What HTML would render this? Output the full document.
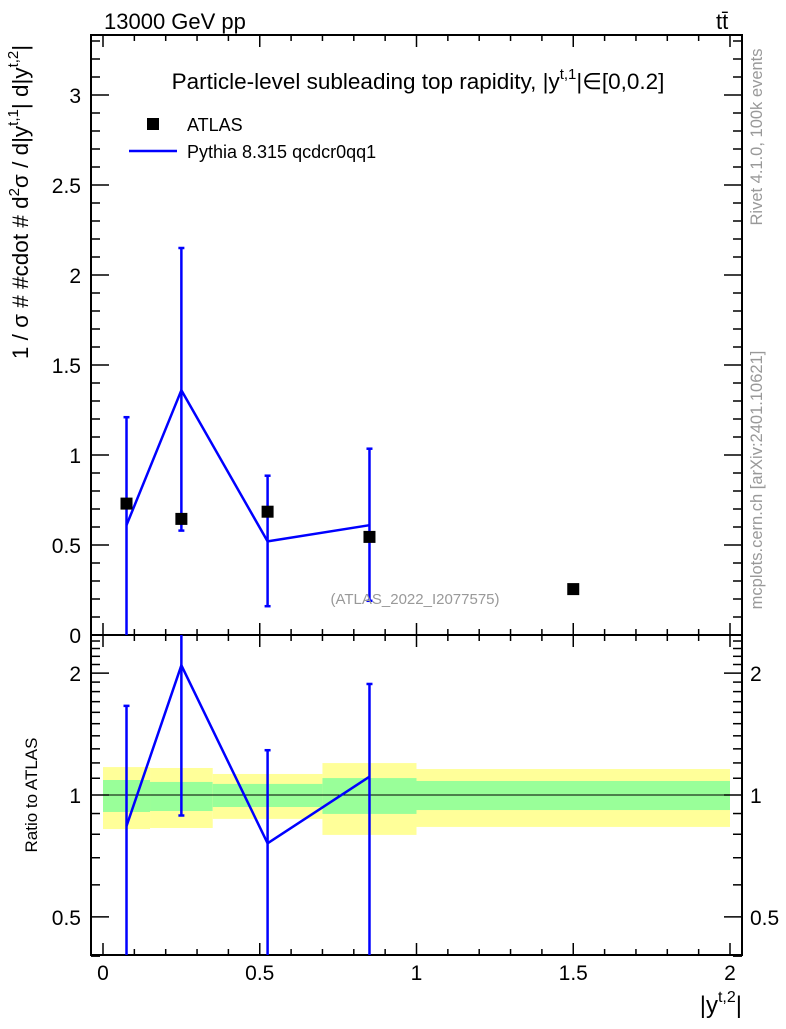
<!DOCTYPE html>
<html><head><meta charset="utf-8"><style>
body{margin:0;background:#fff}
svg text{font-family:"Liberation Sans",sans-serif}
</style></head><body>
<svg id="c" width="786" height="1024" xmlns="http://www.w3.org/2000/svg"></svg>
<script>
const binEdges=[0,0.15,0.35,0.7,1.0,2.0];
const dataX=[0.075,0.25,0.525,0.85,1.5];
const dataY=[0.73,0.645,0.685,0.545,0.255];
const mcX=[0.075,0.25,0.525,0.85];
const mcY=[0.61,1.36,0.52,0.61];
const mcUp=[1.21,2.15,0.885,1.035];
const mcDn=[-0.1,0.58,0.16,0.19];
const ratioY=[0.838,2.09,0.76,1.11];
const ratioUp=[1.66,3,1.29,1.88];
const ratioDn=[0.3,0.89,0.3,0.3];
const yelHi=[1.172,1.166,1.127,1.199,1.159];
const yelLo=[0.824,0.829,0.873,0.797,0.834];
const grnHi=[1.089,1.077,1.065,1.101,1.083];
const grnLo=[0.908,0.913,0.934,0.898,0.918];
const mainTicks=["0","0.5","1","1.5","2","2.5","3"];
const xTicks=["0","0.5","1","1.5","2"];

const L=91,R=742,T=35,MB=635,RB=955;
const X=v=>103+v*313.5;
const Y=v=>635-v*180;
const RY=v=>795-Math.log10(v)*405;
const svg=document.getElementById('c');
const NS="http://www.w3.org/2000/svg";
function el(t,a,p){const e=document.createElementNS(NS,t);for(const k in a)e.setAttribute(k,a[k]);(p||svg).appendChild(e);return e;}
function txt(s,a){const e=el('text',a);e.textContent=s;return e;}
const clamp=(v,a,b)=>Math.max(a,Math.min(b,v));

for(let i=0;i<5;i++){
 let r=el('rect',{x:X(binEdges[i]),y:RY(yelHi[i]),width:X(binEdges[i+1])-X(binEdges[i]),height:RY(yelLo[i])-RY(yelHi[i]),fill:'#ffff99'});
 
 let g=el('rect',{x:X(binEdges[i]),y:RY(grnHi[i]),width:X(binEdges[i+1])-X(binEdges[i]),height:RY(grnLo[i])-RY(grnHi[i]),fill:'#99ff99'});
 
}
let one=el('line',{x1:X(0),x2:R,y1:RY(1),y2:RY(1),stroke:'#000','stroke-width':1});


el('rect',{x:L,y:T,width:R-L,height:MB-T,fill:'none',stroke:'#000','stroke-width':2});
el('rect',{x:L,y:MB,width:R-L,height:RB-MB,fill:'none',stroke:'#000','stroke-width':2});

for(let i=0;i<=20;i++){
 const v=i/10,x=X(v),len=i%5==0?12:6;
 for(const [y0,d] of [[T,1],[MB,-1],[MB,1],[RB,-1]]) el('line',{x1:x,x2:x,y1:y0,y2:y0+d*len,stroke:'#000','stroke-width':1.5});
}
xTicks.forEach((s,i)=>{const t=txt(s,{x:X(i*0.5),y:980,'font-size':21,'text-anchor':'middle'});});
for(let i=0;i<=33;i++){
 const v=i/10,y=Y(v),len=i%5==0?18:9;
 el('line',{x1:L,x2:L+len,y1:y,y2:y,stroke:'#000','stroke-width':1.5});
 el('line',{x1:R,x2:R-len,y1:y,y2:y,stroke:'#000','stroke-width':1.5});
}
mainTicks.forEach((s,i)=>{const t=txt(s,{x:81,y:Y(i*0.5)+8,'font-size':21,'text-anchor':'end'});});
const rt=[0.4,0.5,0.6,0.7,0.8,0.9,1,1.1,1.2,1.3,1.4,1.5,1.6,1.7,1.8,1.9,2,2.1,2.2,2.3,2.4];
rt.forEach(v=>{const y=RY(v),len=(v==0.5||v==1||v==2)?18:9;
 el('line',{x1:L,x2:L+len,y1:y,y2:y,stroke:'#000','stroke-width':1.5});
 el('line',{x1:R,x2:R-len,y1:y,y2:y,stroke:'#000','stroke-width':1.5});});
[[2,"2"],[1,"1"],[0.5,"0.5"]].forEach(([v,s])=>{
 txt(s,{x:81,y:RY(v)+8,'font-size':21,'text-anchor':'end'});
 txt(s,{x:750,y:RY(v)+8,'font-size':21});
});

const cp=el('clipPath',{id:'cm'});el('rect',{x:L,y:T,width:R-L,height:MB-T},cp);
const cr=el('clipPath',{id:'cr'});el('rect',{x:L,y:MB,width:R-L,height:RB-MB},cr);
let pl=el('polyline',{points:mcX.map((x,i)=>X(x)+','+Y(mcY[i])).join(' '),fill:'none',stroke:'#0000ff','stroke-width':2.5,'clip-path':'url(#cm)'});

mcX.forEach((x,i)=>{
 const y1=clamp(Y(mcUp[i]),T,MB),y2=clamp(Y(mcDn[i]),T,MB);
 let e=el('line',{x1:X(x),x2:X(x),y1:y1,y2:y2,stroke:'#0000ff','stroke-width':2.5});
 
 if(y1>T)el('line',{x1:X(x)-3,x2:X(x)+3,y1:y1,y2:y1,stroke:'#0000ff','stroke-width':2.5});
 if(y2<MB)el('line',{x1:X(x)-3,x2:X(x)+3,y1:y2,y2:y2,stroke:'#0000ff','stroke-width':2.5});
});
dataX.forEach((x,i)=>{let r=el('rect',{x:X(x)-6,y:Y(dataY[i])-6,width:12,height:12,fill:'#000'});
 });
let rl=el('polyline',{points:mcX.map((x,i)=>X(x)+','+RY(ratioY[i])).join(' '),fill:'none',stroke:'#0000ff','stroke-width':2.5,'clip-path':'url(#cr)'});

mcX.forEach((x,i)=>{
 const y1=clamp(RY(ratioUp[i]),MB,RB),y2=clamp(RY(ratioDn[i]),MB,RB);
 let e=el('line',{x1:X(x),x2:X(x),y1:y1,y2:y2,stroke:'#0000ff','stroke-width':2.5});
 
 if(y1>MB)el('line',{x1:X(x)-3,x2:X(x)+3,y1:y1,y2:y1,stroke:'#0000ff','stroke-width':2.5});
 if(y2<RB)el('line',{x1:X(x)-3,x2:X(x)+3,y1:y2,y2:y2,stroke:'#0000ff','stroke-width':2.5});
});
</script>
<svg style="position:absolute;left:0;top:0" width="786" height="1024" xmlns="http://www.w3.org/2000/svg" font-family="Liberation Sans, sans-serif">
<text x="104" y="29" font-size="22">13000 GeV pp</text>
<text x="716" y="29" font-size="22">tt̄</text>
<text x="418" y="89" font-size="22.5" text-anchor="middle">Particle-level subleading top rapidity, |y<tspan dy="-10" font-size="15">t,1</tspan><tspan dy="10">|∈[0,0.2]</tspan></text>
<rect x="147" y="118" width="12" height="12" fill="#000"/>
<text x="187" y="131" font-size="18">ATLAS</text>
<line x1="129" x2="177" y1="151" y2="151" stroke="#0000ff" stroke-width="2.5"/>
<text x="187" y="158" font-size="18">Pythia 8.315 qcdcr0qq1</text>
<text x="415" y="604" font-size="15" fill="#999" text-anchor="middle">(ATLAS_2022_I2077575)</text>
<text transform="translate(28,202) rotate(-90)" font-size="22.5" text-anchor="middle">1 / σ # #cdot # d<tspan dy="-9" font-size="15">2</tspan><tspan dy="9">σ / d|y</tspan><tspan dy="-10" font-size="15">t,1</tspan><tspan dy="10">| d|y</tspan><tspan dy="-10" font-size="15">t,2</tspan><tspan dy="10">|</tspan></text>
<text transform="translate(37,795) rotate(-90)" font-size="17" text-anchor="middle">Ratio to ATLAS</text>
<text x="742" y="1013" font-size="24" text-anchor="end">|y<tspan dy="-11" font-size="16">t,2</tspan><tspan dy="11">|</tspan></text>
<text transform="translate(762,137) rotate(-90)" font-size="16.5" fill="#999" text-anchor="middle">Rivet 4.1.0,  100k events</text>
<text transform="translate(762,480) rotate(-90)" font-size="16.5" fill="#999" text-anchor="middle">mcplots.cern.ch [arXiv:2401.10621]</text>
</svg>
</body></html>
